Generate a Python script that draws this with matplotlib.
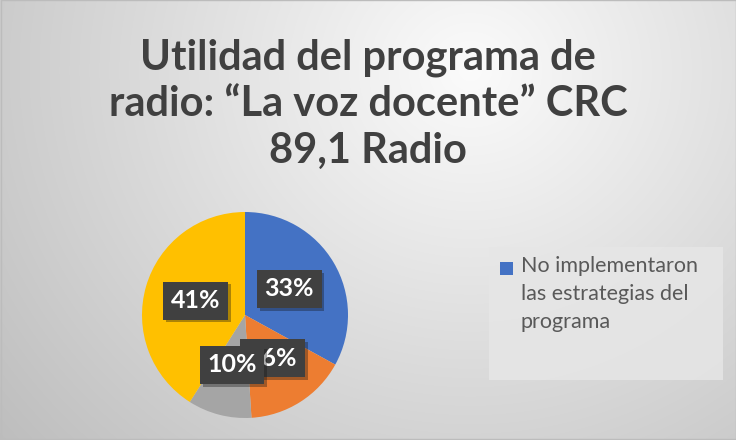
import matplotlib.pyplot as plt
import matplotlib.patheffects as pe
import numpy as np

title = 'Utilidad del programa de\nradio: \u201cLa voz docente\u201d CRC\n89,1 Radio'
categories = ['No implementaron\nlas estrategias del\nprograma', 'B', 'C', 'D']
values = [33, 16, 10, 41]
colors = ['#4472c4', '#ed7d31', '#a5a5a5', '#ffc000']

W, H = 736, 440
fig = plt.figure(figsize=(W / 100, H / 100), dpi=100)

# background: soft radial gradient, light near top right
bg = fig.add_axes([0, 0, 1, 1])
yy, xx = np.mgrid[0:H, 0:W]
d = np.hypot((xx - 470) / 560.0, (yy - 70) / 520.0)
shade = np.clip(0.985 - 0.22 * d, 0.74, 1.0)
bg.imshow(np.dstack([shade] * 3), extent=[0, W, H, 0], aspect='auto')
bg.add_patch(plt.Rectangle((0.5, 0.5), W - 1, H - 1, fill=False,
                           edgecolor='#bcbcbc', linewidth=1))

# legend box (only the first entry is shown in the original)
bg.add_patch(plt.Rectangle((489, 247), 234, 133, facecolor='#e6e6e6',
                           edgecolor='none', alpha=0.85))
bg.add_patch(plt.Rectangle((500, 262), 13, 13, facecolor=colors[0],
                           edgecolor='none'))
bg.text(521, 256, categories[0], ha='left', va='top', family='Lato',
        fontsize=15.5, color='#595959', linespacing=1.5)
bg.set_xlim(0, W)
bg.set_ylim(H, 0)
bg.axis('off')

fig.text(368 / W, 1 - 104 / H, title, ha='center', va='center',
         fontsize=30, fontweight='bold', family='Lato', color='#404040',
         linespacing=1.28)

# pie centred at about (245, 315) with radius ~103 px
r = 103
ax = fig.add_axes([(245 - r) / W, 1 - (315 + r) / H, 2 * r / W, 2 * r / H])
wedges, _, autotexts = ax.pie(
    values, colors=colors, startangle=90, counterclock=False,
    autopct='%1.0f%%', pctdistance=0.5,
    wedgeprops=dict(linewidth=0),
    textprops=dict(color='white', fontsize=18, fontweight='bold', family='Lato'))
ax.set_xlim(-1, 1)
ax.set_ylim(-1, 1)
ax.set_aspect('equal')

zorders = [5, 3, 4, 5]
for t, z in zip(autotexts, zorders):
    t.set_bbox(dict(boxstyle='square,pad=0.3', facecolor='#404040',
                    edgecolor='none'))
    t.set_zorder(z)
    t.get_bbox_patch().set_path_effects(
        [pe.SimplePatchShadow(offset=(2, -2), alpha=0.35), pe.Normal()])

fig.savefig('out.png', dpi=100)
